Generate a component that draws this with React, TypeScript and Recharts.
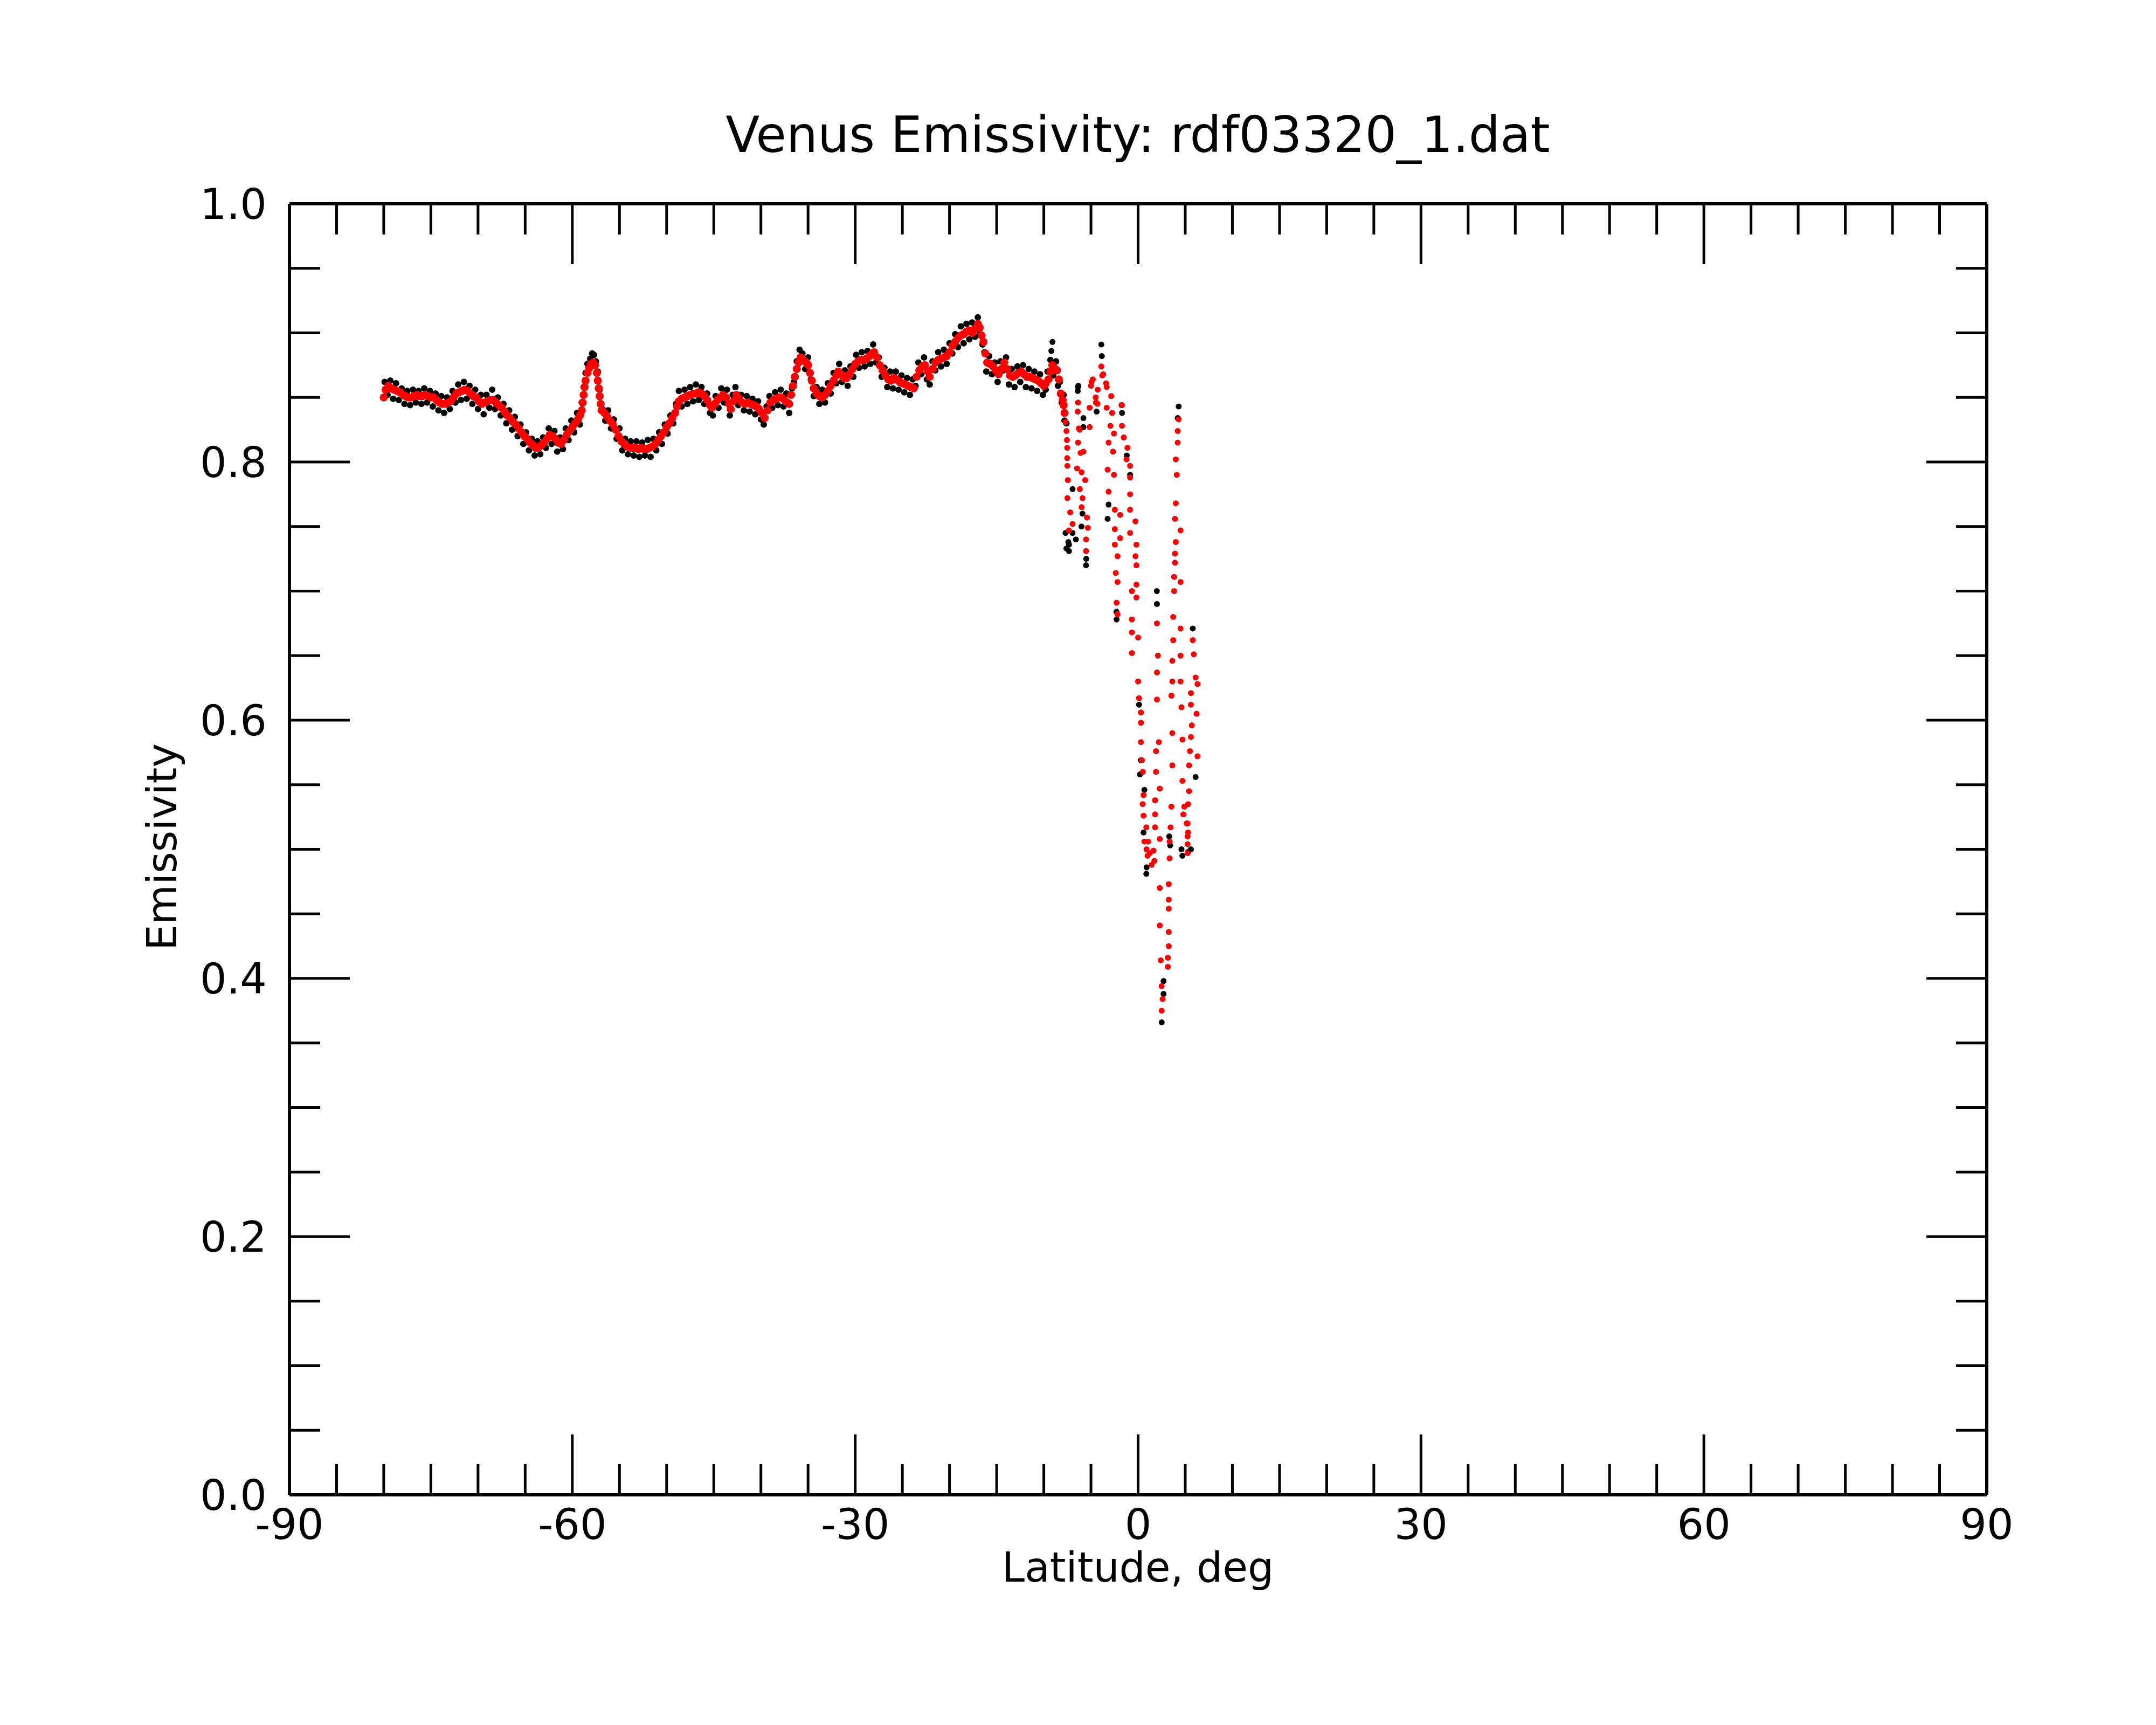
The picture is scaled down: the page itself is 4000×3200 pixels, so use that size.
import { ScatterChart, Scatter, XAxis, YAxis } from 'recharts';

// latitude (deg), emissivity pairs
const redSouth = [
  [-80.0,0.850],[-79.8,0.856],[-79.5,0.859],[-79.2,0.857],[-78.9,0.856],[-78.6,0.855],[-78.3,0.854],[-78.0,0.852],
  [-77.7,0.851],[-77.4,0.850],[-77.1,0.850],[-76.8,0.851],[-76.5,0.852],[-76.2,0.851],[-75.9,0.851],[-75.6,0.852],
  [-75.3,0.851],[-75.0,0.850],[-74.7,0.850],[-74.4,0.848],[-74.1,0.846],[-73.8,0.845],[-73.5,0.845],[-73.2,0.846],
  [-72.9,0.847],[-72.6,0.850],[-72.3,0.853],[-72.0,0.854],[-71.7,0.855],[-71.4,0.856],[-71.1,0.855],[-70.8,0.853],
  [-70.5,0.851],[-70.2,0.850],[-69.9,0.847],[-69.6,0.845],[-69.3,0.846],[-69.0,0.847],[-68.7,0.848],[-68.4,0.848],
  [-68.1,0.846],[-67.8,0.844],[-67.5,0.842],[-67.2,0.839],[-66.9,0.836],[-66.6,0.834],[-66.3,0.831],[-66.0,0.829],
  [-65.7,0.826],[-65.4,0.823],[-65.1,0.820],[-64.8,0.818],[-64.5,0.815],[-64.2,0.813],[-63.9,0.811],[-63.6,0.811],
  [-63.3,0.813],[-63.0,0.815],[-62.7,0.818],[-62.4,0.821],[-62.1,0.820],[-61.8,0.818],[-61.5,0.815],[-61.2,0.814],
  [-60.9,0.817],[-60.6,0.821],[-60.3,0.824],[-60.0,0.827],[-59.7,0.830],[-59.4,0.833],[-59.2,0.836],[-59.0,0.840],
  [-58.9,0.846],[-58.8,0.852],[-58.7,0.858],[-58.6,0.863],[-58.4,0.869],[-58.2,0.873],[-58.0,0.876],[-57.8,0.877],
  [-57.6,0.875],[-57.4,0.869],[-57.3,0.863],[-57.2,0.857],[-57.1,0.851],[-57.0,0.845],[-56.9,0.840],
];

const redMid = [
  [-56.6,0.838],[-56.3,0.835],[-56.0,0.832],[-55.7,0.829],[-55.4,0.825],[-55.1,0.820],[-54.8,0.816],[-54.5,0.814],
  [-54.2,0.812],[-53.9,0.811],[-53.6,0.811],[-53.3,0.811],[-53.0,0.810],[-52.7,0.811],[-52.4,0.810],[-52.1,0.810],
  [-51.8,0.811],[-51.5,0.812],[-51.2,0.814],[-50.9,0.817],[-50.6,0.820],[-50.3,0.823],[-50.0,0.827],[-49.7,0.830],
  [-49.4,0.834],[-49.1,0.838],[-48.9,0.843],[-48.7,0.847],[-48.4,0.849],[-48.1,0.850],[-47.8,0.851],[-47.5,0.852],
  [-47.2,0.853],[-46.9,0.853],[-46.6,0.854],[-46.3,0.853],[-46.0,0.851],[-45.7,0.848],[-45.4,0.844],[-45.2,0.842],
  [-44.9,0.845],[-44.6,0.848],[-44.3,0.850],[-44.0,0.852],[-43.7,0.850],[-43.4,0.845],[-43.2,0.841],[-42.9,0.847],
  [-42.6,0.852],[-42.3,0.849],[-42.0,0.846],[-41.7,0.845],[-41.4,0.846],[-41.1,0.845],[-40.8,0.844],[-40.5,0.843],
  [-40.2,0.841],[-39.9,0.838],[-39.6,0.834],[-39.3,0.840],[-39.0,0.846],[-38.7,0.848],[-38.4,0.849],[-38.1,0.850],
  [-37.8,0.850],[-37.5,0.848],[-37.2,0.846],[-37.0,0.845],[-36.8,0.852],[-36.6,0.859],[-36.4,0.866],[-36.2,0.872],
  [-36.0,0.877],[-35.8,0.881],[-35.5,0.879],[-35.2,0.877],[-35.0,0.875],[-34.8,0.869],[-34.6,0.863],[-34.4,0.857],
  [-34.1,0.853],[-33.8,0.851],[-33.5,0.850],[-33.2,0.852],[-32.9,0.855],[-32.6,0.859],[-32.3,0.863],[-32.0,0.867],
  [-31.8,0.870],[-31.5,0.868],[-31.2,0.865],[-30.9,0.865],[-30.6,0.868],[-30.3,0.872],[-30.0,0.876],
];

const redNorth = [
  [-29.7,0.878],[-29.4,0.879],[-29.1,0.879],[-28.8,0.880],[-28.5,0.882],[-28.2,0.884],[-28.0,0.885],[-27.7,0.881],
  [-27.4,0.875],[-27.1,0.871],[-26.8,0.867],[-26.5,0.864],[-26.2,0.863],[-25.9,0.865],[-25.6,0.864],[-25.3,0.862],
  [-25.0,0.861],[-24.7,0.860],[-24.4,0.859],[-24.1,0.858],[-23.8,0.857],[-23.5,0.866],[-23.2,0.871],[-22.9,0.874],
  [-22.6,0.875],[-22.3,0.870],[-22.1,0.866],[-21.8,0.872],[-21.5,0.877],[-21.2,0.879],[-20.9,0.880],[-20.6,0.881],
  [-20.3,0.882],[-20.0,0.885],[-19.7,0.890],[-19.4,0.893],[-19.1,0.896],[-18.8,0.898],[-18.5,0.899],[-18.2,0.901],
  [-17.9,0.902],[-17.6,0.900],[-17.3,0.903],[-17.0,0.907],[-16.8,0.904],[-16.6,0.898],[-16.4,0.893],[-16.2,0.884],
  [-16.0,0.877],[-15.7,0.876],[-15.4,0.874],[-15.1,0.871],[-14.8,0.868],[-14.5,0.872],[-14.2,0.877],[-13.9,0.872],
  [-13.6,0.867],[-13.3,0.866],[-13.0,0.867],[-12.7,0.869],[-12.4,0.870],[-12.1,0.868],[-11.8,0.866],[-11.5,0.866],
  [-11.2,0.865],[-10.9,0.864],[-10.6,0.863],[-10.3,0.861],[-10.0,0.859],[-9.8,0.861],[-9.5,0.864],[-9.3,0.870],
  [-9.1,0.875],[-8.9,0.873],[-8.6,0.871],[-8.4,0.864],[-8.2,0.853],[-8.0,0.848],[-7.9,0.844],[-7.8,0.838],
];

const redEquatorWest = [
  [-7.7,0.831],[-7.6,0.824],[-7.55,0.817],[-7.52,0.811],[-7.52,0.803],[-7.5,0.797],[-7.45,0.786],[-7.5,0.772],
  [-7.2,0.761],[-7.35,0.747],[-6.95,0.752],
  [-6.37,0.846],[-6.4,0.839],[-6.28,0.826],[-6.37,0.815],[-5.8,0.808],[-6.47,0.795],[-5.99,0.792],[-5.61,0.786],
  [-6.18,0.779],[-5.9,0.772],[-5.99,0.765],[-5.42,0.757],[-5.33,0.749],[-5.52,0.740],[-5.52,0.731],[-6.2,0.825],
  [-6.1,0.807],[-5.14,0.842],[-5.14,0.827],[-5.0,0.859],[-4.94,0.862],[-4.8,0.864],[-4.5,0.850],[-4.3,0.845],
  [-4.28,0.856],[-4.47,0.846],[-3.9,0.874],[-3.8,0.867],[-3.7,0.868],[-3.4,0.861],[-3.33,0.858],[-2.85,0.851],
  [-3.33,0.842],[-2.75,0.838],[-2.94,0.828],[-2.56,0.822],[-3.13,0.815],[-2.66,0.808],[-3.23,0.794],[-2.56,0.790],
  [-3.13,0.777],[-2.47,0.763],[-1.9,0.759],[-2.47,0.748],[-1.9,0.741],[-2.47,0.736],[-2.18,0.727],[-2.37,0.714],
  [-2.18,0.707],[-2.28,0.691],[-2.18,0.682],[-1.71,0.844],[-1.71,0.828],[-1.52,0.819],[-1.13,0.811],[-1.23,0.802],
  [-0.85,0.797],[-0.85,0.788],[-0.85,0.775],[-0.85,0.763],[-0.28,0.754],[-0.85,0.745],[-0.18,0.736],[-0.28,0.727],
  [-0.18,0.720],[-0.18,0.705],[-0.66,0.700],[-0.18,0.695],[-0.66,0.678],[-0.66,0.668],[0.0,0.664],[-0.66,0.652],
  [0.0,0.630],[0.1,0.617],[0.3,0.606],[0.3,0.598],[0.3,0.583],[0.4,0.569],[0.5,0.560],[0.58,0.542],
  [0.48,0.535],[0.58,0.526],[0.87,0.517],[0.67,0.506],[1.06,0.506],[1.25,0.497],[1.44,0.488],[1.0,0.495],[0.9,0.500],
];

const redEquatorEast = [
  [2.0,0.675],[2.1,0.650],[2.0,0.637],[2.0,0.616],[2.2,0.583],[1.9,0.576],[1.9,0.560],[2.3,0.547],
  [1.8,0.538],[1.8,0.527],[1.8,0.517],[2.3,0.508],[1.63,0.499],[1.72,0.491],[2.3,0.470],[2.3,0.441],
  [2.4,0.414],[2.5,0.394],[2.6,0.384],[2.5,0.375],[3.15,0.409],[3.15,0.416],[3.25,0.425],[3.25,0.436],
  [3.25,0.454],[3.25,0.461],[3.25,0.473],[3.34,0.493],[3.34,0.506],[3.44,0.517],[3.53,0.533],[3.63,0.565],
  [3.63,0.590],[3.53,0.619],[3.63,0.630],[3.63,0.646],[3.72,0.662],[3.72,0.680],[3.82,0.700],[3.82,0.711],
  [3.91,0.722],[3.91,0.729],[4.0,0.738],[3.91,0.756],[4.0,0.768],[4.1,0.790],[4.0,0.802],[4.2,0.815],
  [4.2,0.824],[4.3,0.833],[4.5,0.747],[4.5,0.707],[4.5,0.671],[4.5,0.650],[4.5,0.630],[4.6,0.610],
  [4.7,0.585],[4.7,0.553],[4.9,0.533],[4.8,0.527],[5.15,0.520],[5.25,0.510],[5.25,0.497],[5.8,0.662],
  [5.9,0.651],[6.1,0.633],[6.3,0.628],[5.6,0.621],[5.6,0.612],[6.2,0.605],[5.7,0.596],[5.6,0.587],
  [5.5,0.576],[6.3,0.572],[5.4,0.565],[5.4,0.545],[5.3,0.535],[5.25,0.520],[5.3,0.513],[5.25,0.504],
];

const blackSouth = [
  [-79.9,0.862],[-79.6,0.852],[-79.3,0.863],[-79.0,0.849],[-78.7,0.861],[-78.4,0.848],[-78.1,0.857],[-77.8,0.845],
  [-77.5,0.855],[-77.2,0.844],[-76.9,0.856],[-76.6,0.846],[-76.3,0.855],[-76.0,0.845],[-75.7,0.857],[-75.4,0.846],
  [-75.1,0.855],[-74.8,0.843],[-74.5,0.853],[-74.2,0.840],[-73.9,0.851],[-73.6,0.838],[-73.3,0.850],[-73.0,0.841],
  [-72.7,0.855],[-72.4,0.846],[-72.1,0.860],[-71.8,0.848],[-71.5,0.862],[-71.2,0.849],[-70.9,0.859],[-70.6,0.845],
  [-70.3,0.856],[-70.0,0.841],[-69.7,0.852],[-69.4,0.837],[-69.1,0.852],[-68.8,0.842],[-68.5,0.856],[-68.2,0.841],
  [-67.9,0.850],[-67.6,0.836],[-67.3,0.845],[-67.0,0.830],[-66.7,0.840],[-66.4,0.825],[-66.1,0.835],[-65.8,0.820],
  [-65.5,0.829],[-65.2,0.814],[-64.9,0.823],[-64.6,0.809],[-64.3,0.818],[-64.0,0.805],[-63.7,0.816],[-63.4,0.806],
  [-63.1,0.819],[-62.8,0.811],[-62.5,0.826],[-62.2,0.814],[-61.9,0.824],[-61.6,0.808],[-61.3,0.819],[-61.0,0.810],
  [-60.7,0.826],[-60.4,0.817],[-60.1,0.832],[-59.8,0.823],[-59.5,0.838],[-59.2,0.829],[-59.0,0.846],[-58.8,0.858],
  [-58.6,0.869],[-58.4,0.876],[-58.1,0.880],[-57.9,0.884],[-57.7,0.883],[-57.5,0.878],[-57.3,0.870],[-57.1,0.856],
  [-56.8,0.841],[-56.5,0.832],[-56.2,0.840],[-55.9,0.826],[-55.6,0.833],[-55.3,0.818],[-55.0,0.826],[-54.7,0.809],
  [-54.4,0.818],[-54.1,0.806],[-53.8,0.816],[-53.5,0.805],[-53.2,0.816],[-52.9,0.804],[-52.6,0.815],[-52.3,0.805],
  [-52.0,0.817],[-51.7,0.804],[-51.4,0.818],[-51.1,0.809],[-50.8,0.823],[-50.5,0.814],[-50.2,0.829],[-49.9,0.822],
];

const blackMid = [
  [-49.6,0.836],[-49.3,0.830],[-49.0,0.845],[-48.7,0.855],[-48.4,0.843],[-48.1,0.856],[-47.8,0.845],[-47.5,0.858],
  [-47.2,0.847],[-46.9,0.860],[-46.6,0.848],[-46.3,0.858],[-46.0,0.845],[-45.7,0.853],[-45.4,0.838],[-45.1,0.836],
  [-44.8,0.851],[-44.5,0.842],[-44.2,0.857],[-43.9,0.846],[-43.6,0.856],[-43.3,0.836],[-43.0,0.852],[-42.7,0.858],
  [-42.4,0.844],[-42.1,0.852],[-41.8,0.840],[-41.5,0.851],[-41.2,0.839],[-40.9,0.849],[-40.6,0.837],[-40.3,0.847],
  [-40.0,0.833],[-39.7,0.829],[-39.4,0.843],[-39.1,0.851],[-38.8,0.842],[-38.5,0.854],[-38.2,0.844],[-37.9,0.856],
  [-37.6,0.843],[-37.3,0.853],[-37.0,0.838],[-36.7,0.857],[-36.5,0.862],[-36.2,0.878],[-35.9,0.887],[-35.6,0.884],
  [-35.3,0.872],[-35.0,0.881],[-34.7,0.864],[-34.4,0.851],[-34.1,0.858],[-33.8,0.845],[-33.5,0.856],[-33.2,0.846],
  [-32.9,0.861],[-32.6,0.853],[-32.3,0.869],[-32.0,0.861],[-31.7,0.876],[-31.4,0.862],[-31.1,0.871],[-30.8,0.859],
  [-30.5,0.874],[-30.2,0.866],[-29.9,0.883],[-29.6,0.873],[-29.3,0.885],[-29.0,0.874],[-28.7,0.886],[-28.4,0.876],
  [-28.1,0.891],[-27.8,0.877],[-27.5,0.881],[-27.2,0.866],[-26.9,0.873],[-26.6,0.858],[-26.3,0.870],[-26.0,0.857],
];

const blackNorth = [
  [-25.7,0.870],[-25.4,0.856],[-25.1,0.867],[-24.8,0.854],[-24.5,0.865],[-24.2,0.852],[-23.9,0.864],[-23.6,0.859],
  [-23.3,0.877],[-23.0,0.868],[-22.7,0.881],[-22.4,0.864],[-22.1,0.860],[-21.8,0.878],[-21.5,0.871],[-21.2,0.885],
  [-20.9,0.874],[-20.6,0.887],[-20.3,0.876],[-20.0,0.892],[-19.7,0.884],[-19.4,0.899],[-19.1,0.889],[-18.8,0.905],
  [-18.5,0.892],[-18.2,0.907],[-17.9,0.895],[-17.6,0.908],[-17.3,0.897],[-17.0,0.912],[-16.8,0.899],[-16.5,0.891],
  [-16.3,0.885],[-16.1,0.870],[-15.8,0.882],[-15.5,0.868],[-15.2,0.877],[-14.9,0.862],[-14.6,0.878],[-14.3,0.871],
  [-14.0,0.881],[-13.7,0.860],[-13.4,0.872],[-13.1,0.858],[-12.8,0.874],[-12.5,0.862],[-12.2,0.875],[-11.9,0.858],
  [-11.6,0.872],[-11.3,0.857],[-11.0,0.870],[-10.7,0.855],[-10.4,0.868],[-10.1,0.852],[-9.8,0.856],[-9.6,0.870],
  [-9.3,0.879],[-9.0,0.867],[-8.7,0.878],[-8.5,0.859],[-8.3,0.862],[-8.1,0.846],[-7.9,0.852],[-7.8,0.832],[-7.6,0.830],
];

const blackEquator = [
  [-9.08,0.893],[-9.2,0.886],[-6.34,0.859],[-6.4,0.855],[-5.8,0.834],[-5.8,0.827],[-3.9,0.891],[-3.85,0.882],
  [-4.4,0.839],[-1.75,0.844],[-1.7,0.838],[4.3,0.843],[4.2,0.834],[-6.95,0.779],[-7.33,0.736],[-7.33,0.731],
  [-6.6,0.740],[-6.95,0.745],[-5.52,0.720],[-5.5,0.725],[-3.13,0.767],[-3.23,0.756],[-2.28,0.678],[-2.3,0.684],
  [-0.85,0.790],[-1.2,0.805],[0.1,0.612],[0.3,0.569],[0.2,0.558],[0.67,0.546],[0.58,0.513],[0.87,0.481],
  [0.9,0.486],[1.99,0.700],[2.0,0.690],[2.5,0.366],[2.7,0.398],[2.7,0.388],[3.3,0.510],[3.4,0.503],
  [4.7,0.495],[4.6,0.500],[5.8,0.671],[6.1,0.556],[5.3,0.498],[5.6,0.500],[-6.0,0.750],[-6.37,0.858],
  [-5.9,0.760],[-7.7,0.745],[-7.6,0.733],[-7.4,0.738],
];

const xTicks = [-90,-85,-80,-75,-70,-65,-60,-55,-50,-45,-40,-35,-30,-25,-20,-15,-10,-5,0,5,10,15,20,25,30,35,40,45,50,55,60,65,70,75,80,85,90];
const yTicks = [0,0.05,0.1,0.15,0.2,0.25,0.3,0.35,0.4,0.45,0.5,0.55,0.6,0.65,0.7,0.75,0.8,0.85,0.9,0.95,1];

const toPoints = (rows: number[][]) => rows.map(([lat, em]) => ({ lat, em }));
const blackBand = toPoints([...blackSouth, ...blackMid, ...blackNorth]);
const blackScatter = toPoints(blackEquator);
const redBand = toPoints([...redSouth, ...redMid, ...redNorth]);
const redScatter = toPoints([...redEquatorWest, ...redEquatorEast]);

const FONT = 'DejaVu Sans';
const MAJOR = 112;
const MINOR = 57;
const TOP = 378;
const BOTTOM = 427;
const LEFT = 537;
const RIGHT = 314;
const PLOT_H = 3200 - TOP - BOTTOM;

// bottom axis tick also draws the matching inward tick on the top frame
const BottomTick = (props: any) => {
  const { x, y, index, payload } = props;
  const len = index % 6 === 0 ? MAJOR : MINOR;
  return (
    <g>
      <line x1={x} y1={y} x2={x} y2={y - len} stroke="#000" strokeWidth={5} />
      <line x1={x} y1={y - PLOT_H} x2={x} y2={y - PLOT_H + len} stroke="#000" strokeWidth={5} />
      {index % 6 === 0 && (
        <text x={x} y={y + 82} textAnchor="middle" fontSize={78} fontFamily={FONT} fill="#000">
          {payload.value}
        </text>
      )}
    </g>
  );
};

const LeftTick = (props: any) => {
  const { x, y, index, payload } = props;
  const major = index % 4 === 0;
  return (
    <g>
      <line x1={x} y1={y} x2={x + (major ? MAJOR : MINOR)} y2={y} stroke="#000" strokeWidth={5} />
      {major && (
        <text x={x - 42} y={y + 28} textAnchor="end" fontSize={78} fontFamily={FONT} fill="#000">
          {Number(payload.value).toFixed(1)}
        </text>
      )}
    </g>
  );
};

const RightTick = (props: any) => {
  const { x, y, index } = props;
  const major = index % 4 === 0;
  return <line x1={x} y1={y} x2={x - (major ? MAJOR : MINOR)} y2={y} stroke="#000" strokeWidth={5} />;
};

const Dot = (color: string, r: number) => (p: any) => <circle cx={p.cx} cy={p.cy} r={r} fill={color} />;

export default function App() {
  return (
    <div style={{ position: 'absolute', left: 0, top: 0, width: 4000, height: 3200, background: '#fff' }}>
      <ScatterChart width={4000} height={3200} margin={{ top: 0, right: 0, bottom: 0, left: 0 }}>
        <XAxis
          xAxisId={0} type="number" dataKey="lat" domain={[-90, 90]} ticks={xTicks} interval={0}
          height={BOTTOM} tickSize={0} tickMargin={0} tickLine={false} tick={<BottomTick />}
          axisLine={{ stroke: '#000', strokeWidth: 6 }} allowDataOverflow
        />
        <XAxis
          xAxisId="top" orientation="top" type="number" domain={[-90, 90]} ticks={xTicks} interval={0}
          height={TOP} tickLine={false} tick={false}
          axisLine={{ stroke: '#000', strokeWidth: 6 }} allowDataOverflow
        />
        <YAxis
          yAxisId={0} type="number" dataKey="em" domain={[0, 1]} ticks={yTicks} interval={0}
          width={LEFT} tickSize={0} tickMargin={0} tickLine={false} tick={<LeftTick />}
          axisLine={{ stroke: '#000', strokeWidth: 6 }} allowDataOverflow
        />
        <YAxis
          yAxisId="right" orientation="right" type="number" domain={[0, 1]} ticks={yTicks} interval={0}
          width={RIGHT} tickSize={0} tickMargin={0} tickLine={false} tick={<RightTick />}
          axisLine={{ stroke: '#000', strokeWidth: 6 }} allowDataOverflow
        />
        <Scatter data={blackBand} fill="#000" shape={Dot('#000', 6)} isAnimationActive={false} />
        <Scatter data={blackScatter} fill="#000" shape={Dot('#000', 5.5)} isAnimationActive={false} />
        <Scatter data={redBand} fill="#ff0000" shape={Dot('#ff0000', 7.5)} isAnimationActive={false} />
        <Scatter data={redScatter} fill="#ff0000" shape={Dot('#ff0000', 5.5)} isAnimationActive={false} />
      </ScatterChart>
      <svg width={4000} height={3200} style={{ position: 'absolute', left: 0, top: 0, pointerEvents: 'none' }}>
        <text x={2111} y={282} textAnchor="middle" fontSize={92} fontFamily={FONT} fill="#000">
          Venus Emissivity: rdf03320_1.dat
        </text>
        <text x={2111} y={2934} textAnchor="middle" fontSize={76} fontFamily={FONT} fill="#000">
          Latitude, deg
        </text>
        <text x={327} y={1571} textAnchor="middle" fontSize={76} fontFamily={FONT} fill="#000" transform="rotate(-90 327 1571)">
          Emissivity
        </text>
      </svg>
    </div>
  );
}
